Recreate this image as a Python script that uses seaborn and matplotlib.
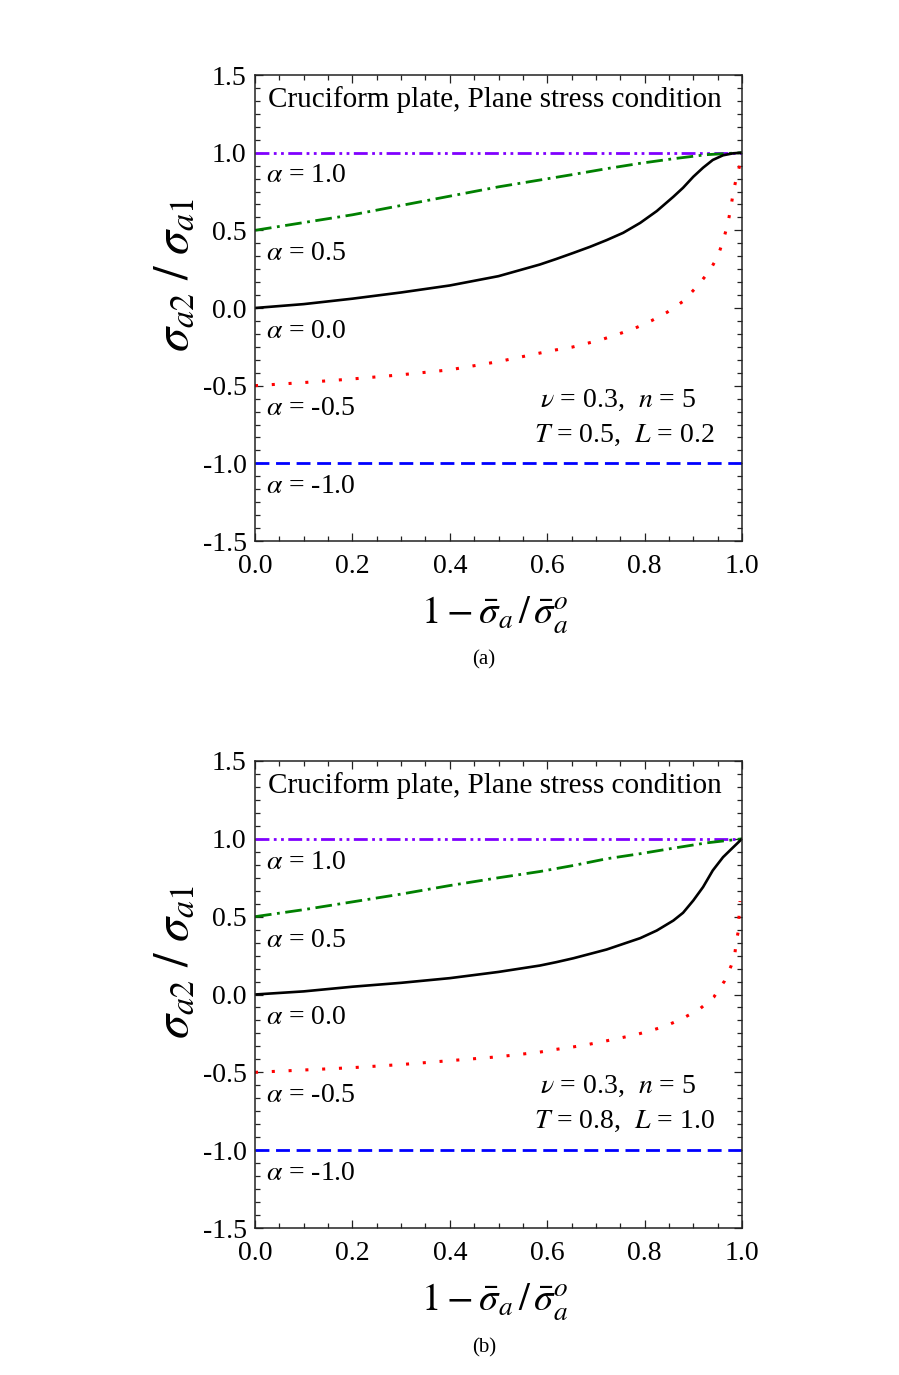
import matplotlib
matplotlib.use("Agg")
import matplotlib.pyplot as plt
import seaborn as sns
from matplotlib.ticker import MultipleLocator, AutoMinorLocator

# ---------------- data ----------------
x_const = [0.0, 1.0]
y_pos1 = [1.0, 1.0]
y_neg1 = [-1.0, -1.0]

# panel (a)  T = 0.5, L = 0.2
xa_half = [0.0, 0.1, 0.2, 0.3, 0.4, 0.5, 0.585, 0.654, 0.722, 0.790, 0.859, 0.927, 1.0]
ya_half = [0.5, 0.55, 0.60, 0.66, 0.72, 0.78, 0.824, 0.86, 0.897, 0.931, 0.961, 0.987, 1.0]
xa_zero = [0.0, 0.1, 0.2, 0.3, 0.4, 0.5, 0.585, 0.619, 0.654, 0.688, 0.722, 0.756, 0.791, 0.825,
           0.859, 0.879, 0.900, 0.920, 0.940, 0.961, 0.982, 1.0]
ya_zero = [0.0, 0.025, 0.06, 0.10, 0.145, 0.205, 0.28, 0.316, 0.355, 0.394, 0.437, 0.484, 0.548, 0.624,
           0.716, 0.774, 0.845, 0.903, 0.953, 0.983, 0.996, 1.0]
xa_neg = [0.0, 0.1, 0.195, 0.3, 0.4, 0.5, 0.585, 0.619, 0.651, 0.684, 0.715, 0.748, 0.781, 0.814,
          0.846, 0.879, 0.908, 0.934, 0.951, 0.962, 0.971, 0.977, 0.982, 0.988, 0.995, 0.998]
ya_neg = [-0.5, -0.48, -0.458, -0.43, -0.398, -0.345, -0.29, -0.269, -0.252, -0.226, -0.200, -0.166,
          -0.129, -0.082, -0.028, 0.043, 0.140, 0.241, 0.338, 0.441, 0.544, 0.645, 0.742, 0.832,
          0.914, 0.96]

# panel (b)  T = 0.8, L = 1.0
xb_half = [0.0, 0.1, 0.2, 0.3, 0.4, 0.5, 0.585, 0.654, 0.722, 0.790, 0.859, 0.927, 1.0]
yb_half = [0.5, 0.545, 0.595, 0.645, 0.70, 0.75, 0.79, 0.829, 0.872, 0.904, 0.94, 0.974, 1.0]
xb_zero = [0.0, 0.1, 0.2, 0.3, 0.4, 0.5, 0.585, 0.619, 0.654, 0.688, 0.722, 0.756, 0.791, 0.825,
           0.859, 0.879, 0.900, 0.920, 0.940, 0.961, 0.982, 1.0]
yb_zero = [0.0, 0.02, 0.05, 0.075, 0.105, 0.145, 0.186, 0.208, 0.233, 0.261, 0.289, 0.325, 0.362,
           0.411, 0.475, 0.525, 0.604, 0.690, 0.797, 0.882, 0.946, 1.0]
xb_neg = [0.0, 0.1, 0.2, 0.3, 0.4, 0.5, 0.585, 0.617, 0.651, 0.684, 0.715, 0.749, 0.781, 0.814,
          0.846, 0.879, 0.912, 0.942, 0.964, 0.978, 0.985, 0.988, 0.992, 0.994, 0.996]
yb_neg = [-0.5, -0.485, -0.47, -0.45, -0.425, -0.40, -0.370, -0.353, -0.338, -0.321, -0.302, -0.280,
          -0.259, -0.231, -0.199, -0.152, -0.096, -0.017, 0.086, 0.186, 0.251, 0.336, 0.400, 0.507,
          0.6]

alpha_labels = [r"$\alpha$ = 1.0", r"$\alpha$ = 0.5", r"$\alpha$ = 0.0", r"$\alpha$ = -0.5", r"$\alpha$ = -1.0"]
alpha_vals = [1.0, 0.5, 0.0, -0.5, -1.0]
title_text = "Cruciform plate, Plane stress condition"
param_a = [r"$\nu$ = 0.3,  $n$ = 5", r"$T$ = 0.5,  $L$ = 0.2"]
param_b = [r"$\nu$ = 0.3,  $n$ = 5", r"$T$ = 0.8,  $L$ = 1.0"]
xticks = [0.0, 0.2, 0.4, 0.6, 0.8, 1.0]
yticks = [-1.5, -1.0, -0.5, 0.0, 0.5, 1.0, 1.5]

# ---------------- style ----------------
sns.set_theme(style="ticks")
plt.rcParams["font.family"] = ["Liberation Serif", "DejaVu Serif"]
plt.rcParams["mathtext.fontset"] = "stix"
for k in ["text.color", "axes.labelcolor", "xtick.color", "ytick.color", "axes.edgecolor"]:
    plt.rcParams[k] = "black"

fig = plt.figure(figsize=(8.99, 13.75), dpi=100)
W, H = 899, 1375


def make_ax(left, top, right, bottom):
    return fig.add_axes([left / W, 1 - bottom / H, (right - left) / W, (bottom - top) / H])


ax_a = make_ax(255, 75, 742, 541)
ax_b = make_ax(255, 761, 742, 1228)

styles = dict(
    pos1=dict(color="#8000FF", linestyle=(0, (5, 1.6, 1, 1.6, 1, 1.6)), lw=2.0),
    half=dict(color="#008000", linestyle=(0, (6, 2, 1, 2)), lw=2.0),
    zero=dict(color="black", linestyle="-", lw=1.9),
    neg=dict(color="#FF0000", linestyle=(0, (1, 4.5)), lw=2.2),
    neg1=dict(color="#0000FF", linestyle=(0, (5, 2.4)), lw=2.0),
)


def draw(ax, xh, yh, xz, yz, xn, yn, params):
    sns.lineplot(x=x_const, y=y_pos1, ax=ax, estimator=None, **styles["pos1"])
    sns.lineplot(x=xh, y=yh, ax=ax, estimator=None, **styles["half"])
    sns.lineplot(x=xz, y=yz, ax=ax, estimator=None, **styles["zero"])
    sns.lineplot(x=xn, y=yn, ax=ax, estimator=None, **styles["neg"])
    sns.lineplot(x=x_const, y=y_neg1, ax=ax, estimator=None, **styles["neg1"])

    ax.set_xlim(0, 1.0)
    ax.set_ylim(-1.5, 1.5)
    ax.xaxis.set_major_locator(MultipleLocator(0.2))
    ax.xaxis.set_minor_locator(AutoMinorLocator(4))
    ax.yaxis.set_major_locator(MultipleLocator(0.5))
    ax.yaxis.set_minor_locator(AutoMinorLocator(6))
    ax.set_xticks(xticks)
    ax.set_yticks(yticks)
    ax.set_xticklabels([f"{v:.1f}" for v in xticks])
    ax.set_yticklabels([f"{v:.1f}" for v in yticks])
    ax.tick_params(which="both", direction="in", top=True, right=True, labelsize=20,
                   width=0.9, color="#222222", labelcolor="black")
    ax.tick_params(axis="x", which="major", length=6, pad=9)
    ax.tick_params(axis="y", which="major", length=6, pad=6)
    ax.tick_params(which="minor", length=3.5)
    for s in ax.spines.values():
        s.set_visible(True)
        s.set_linewidth(1.1)
        s.set_color("#222222")
    ax.set_xlabel("")
    ax.set_ylabel("")

    ax.text(0.027, 1.345, title_text, fontsize=21, ha="left", va="center")
    for lab, a in zip(alpha_labels, alpha_vals):
        ax.text(0.022, a - 0.15, lab, fontsize=20, ha="left", va="center")
    ax.text(0.585, -0.593, params[0], fontsize=20, ha="left", va="center")
    ax.text(0.573, -0.818, params[1], fontsize=20, ha="left", va="center")

    ax.text(-0.164, 0.57, r"$\sigma_{a2}\ /\ \sigma_{a1}$", fontsize=35, rotation=90,
            ha="center", va="center", transform=ax.transAxes)
    ax.text(0.493, -0.16, r"$1-\bar{\sigma}_a\,/\,\bar{\sigma}_a^o$", fontsize=28,
            ha="center", va="center", transform=ax.transAxes)


draw(ax_a, xa_half, ya_half, xa_zero, ya_zero, xa_neg, ya_neg, param_a)
draw(ax_b, xb_half, yb_half, xb_zero, yb_zero, xb_neg, yb_neg, param_b)

fig.text(484 / W, 1 - 660 / H, "(a)", fontsize=15, ha="center", va="center")
fig.text(484 / W, 1 - 1348 / H, "(b)", fontsize=15, ha="center", va="center")

fig.savefig("out.png", dpi=100)
